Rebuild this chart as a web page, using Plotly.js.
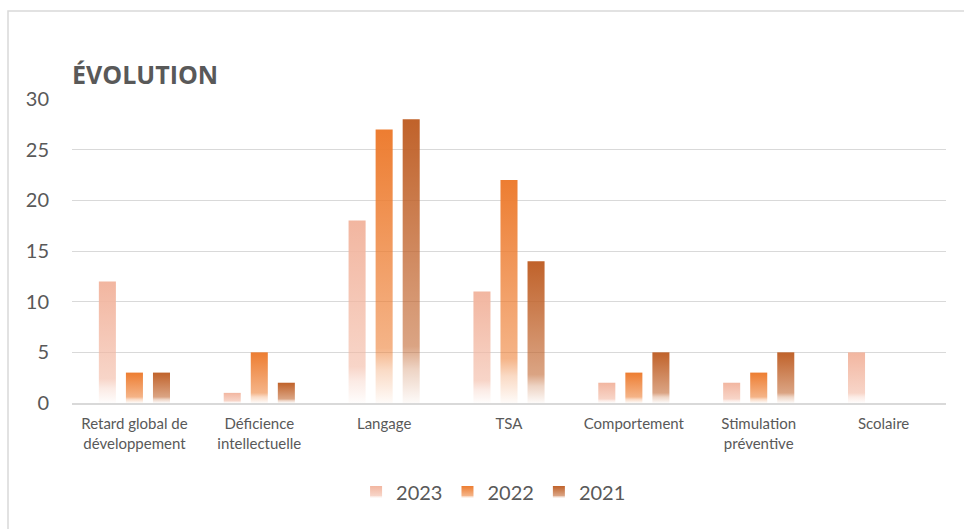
<!DOCTYPE html>
<html>
<head>
<meta charset="utf-8">
<script src="https://cdn.plot.ly/plotly-3.0.1.min.js"></script>
<style>
  html, body { margin: 0; padding: 0; background: #ffffff; }
  #chart { width: 964px; height: 529px; }
</style>
</head>
<body>
<svg width="0" height="0" style="position:absolute">
  <defs id="gradDefs"></defs>
</svg>
<div id="chart"></div>
<script>
// ---- data ----
const categories = [
  "Retard global de<br>développement",
  "Déficience<br>intellectuelle",
  "Langage",
  "TSA",
  "Comportement",
  "Stimulation<br>préventive",
  "Scolaire"
];
const seriesNames = ["2023", "2022", "2021"];
const values2023 = [12, 1, 18, 11, 2, 2, 5];
const values2022 = [3, 5, 27, 22, 3, 3, null];
const values2021 = [3, 2, 28, 14, 5, 5, null];
const yTicks = [0, 5, 10, 15, 20, 25, 30];

// ---- styling ----
const colors = ["#F2B6A0", "#ED7D31", "#C0622A"];
const textColor = "#595959";
const allValues = [values2023, values2022, values2021];

// build vertical gradients (solid top fading to white at the bottom)
const defs = document.getElementById("gradDefs");
const NS = "http://www.w3.org/2000/svg";
const stops = [[0, 1], [0.8, 0.58], [0.88, 0.28], [1, 0.03]];
colors.forEach((c, i) => {
  const g = document.createElementNS(NS, "linearGradient");
  g.setAttribute("id", "grad" + i);
  g.setAttribute("x1", "0"); g.setAttribute("y1", "0");
  g.setAttribute("x2", "0"); g.setAttribute("y2", "1");
  stops.forEach(([off, op]) => {
    const s = document.createElementNS(NS, "stop");
    s.setAttribute("offset", off);
    s.setAttribute("stop-color", c);
    s.setAttribute("stop-opacity", op);
    g.appendChild(s);
  });
  defs.appendChild(g);
});

const traces = seriesNames.map((name, i) => ({
  type: "bar",
  name: name,
  x: categories,
  y: allValues[i],
  marker: { color: colors[i], line: { width: 0 } },
  hoverinfo: "x+y+name"
}));

const layout = {
  width: 964,
  height: 529,
  paper_bgcolor: "#ffffff",
  plot_bgcolor: "#ffffff",
  margin: { l: 72, r: 18, t: 99, b: 126 },
  barmode: "group",
  bargap: 0.35,
  bargroupgap: 0.37,
  title: {
    text: "<b>ÉVOLUTION</b>",
    font: { family: "Open Sans", size: 25, color: textColor },
    xref: "container", yref: "container",
    x: 72 / 964, xanchor: "left",
    y: 1 - 75 / 529, yanchor: "middle"
  },
  xaxis: {
    type: "category",
    showgrid: false,
    showline: true,
    linecolor: "#d9d9d9",
    linewidth: 2,
    ticks: "",
    ticklabelstandoff: 6,
    tickfont: { family: "Lato", size: 15, color: textColor },
    fixedrange: true
  },
  yaxis: {
    range: [0, 30],
    tickvals: yTicks,
    ticktext: yTicks.map(String),
    showgrid: true,
    gridcolor: "#d9d9d9",
    gridwidth: 1,
    zeroline: false,
    showline: false,
    ticks: "",
    ticklabelstandoff: 22,
    tickfont: { family: "Lato", size: 20, color: textColor },
    fixedrange: true
  },
  showlegend: true,
  legend: {
    orientation: "h",
    xref: "container", yref: "container",
    x: 0.512, xanchor: "center",
    y: 1 - 492 / 529, yanchor: "middle",
    font: { family: "Lato", size: 20, color: textColor },
    itemwidth: 30,
    traceorder: "normal"
  },
  shapes: [{
    type: "rect",
    xref: "paper", yref: "paper",
    x0: (8 - 72) / 874, x1: 1.2,
    y0: -0.6, y1: (403 - 11) / 304,
    line: { color: "#d9d9d9", width: 1.5 },
    fillcolor: "rgba(0,0,0,0)",
    layer: "below"
  }]
};

const gd = document.getElementById("chart");
Plotly.newPlot(gd, traces, layout, { displayModeBar: false, staticPlot: true }).then(() => {
  const barTraces = gd.querySelectorAll(".barlayer .trace");
  barTraces.forEach((t, i) => {
    t.querySelectorAll("path").forEach(p => {
      p.style.fill = "url(#grad" + i + ")";
      p.style.fillOpacity = 1;
    });
  });
  const legendTraces = gd.querySelectorAll(".legend .traces");
  legendTraces.forEach((t, i) => {
    t.querySelectorAll(".legendpoints path").forEach(p => {
      p.style.fill = "url(#grad" + i + ")";
    });
  });
});
</script>
</body>
</html>
